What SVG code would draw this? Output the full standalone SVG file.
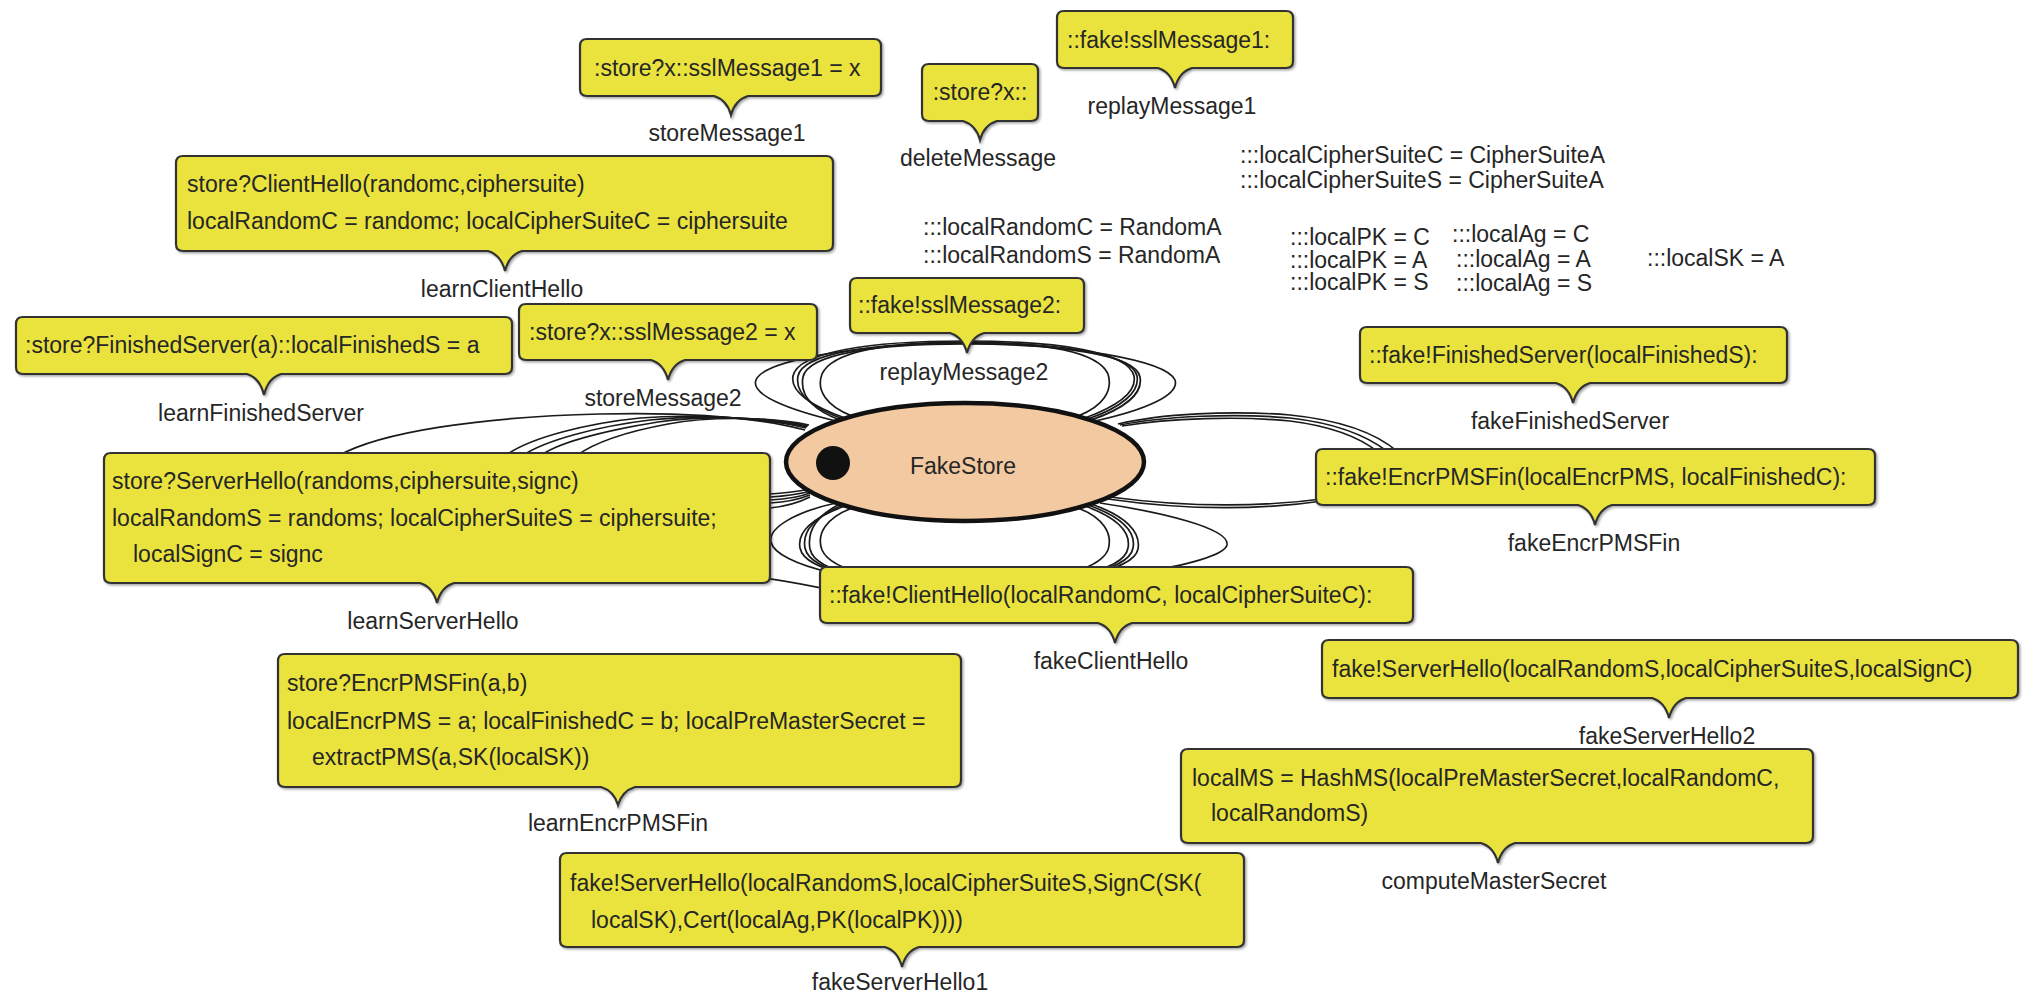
<svg xmlns="http://www.w3.org/2000/svg" width="2024" height="994" viewBox="0 0 2024 994">
<defs>
<filter id="sh" x="-5%" y="-10%" width="110%" height="130%">
<feDropShadow dx="1.5" dy="1.5" stdDeviation="1.2" flood-color="#000" flood-opacity="0.35"/>
</filter>
</defs>
<style>
.bub{fill:#EAE33D;stroke:#333;stroke-width:2.2;filter:url(#sh)}
.t{font-family:"Liberation Sans",Arial,Helvetica,sans-serif;font-size:23px;fill:#262626}
.lb{font-family:"Liberation Sans",Arial,Helvetica,sans-serif;font-size:23px;fill:#262626;text-anchor:middle}
.c{fill:none;stroke:#1a1a1a;stroke-width:1.7}
</style>
<rect width="2024" height="994" fill="#ffffff"/>
<g id="connectors">
<path class="c" d="M852,416 C826,406 816,390 822,374 C832,352 885,342 965,342 C1045,342 1098,352 1108,374 C1113,390 1104,406 1078,416"/>
<path class="c" d="M845,418 C812,406 790,392 793,376 C798,352 870,341 965,341 C1060,341 1128,352 1134,376 C1137,392 1118,406 1085,418"/>
<path class="c" d="M843,419 C810,407 795,392 798,376 C803,353 872,343 965,343 C1058,343 1132,353 1137,376 C1140,392 1122,407 1088,419"/>
<path class="c" d="M840,420 C808,408 800,393 803,377 C808,354 875,344 965,344 C1055,344 1136,354 1140,377 C1143,393 1126,408 1091,420"/>
<path class="c" d="M836,421 C790,410 750,395 756,380 C764,360 860,344 965,343 C1070,344 1166,360 1175,380 C1180,395 1145,410 1095,421"/>
<path class="c" d="M852,508 C826,518 816,534 822,550 C832,572 885,582 965,582 C1045,582 1098,572 1108,550 C1113,534 1104,518 1078,508"/>
<path class="c" d="M845,506 C812,518 797,532 800,548 C805,572 870,583 965,583 C1060,583 1124,572 1128,548 C1131,532 1118,518 1085,506"/>
<path class="c" d="M843,505 C814,517 802,532 805,548 C810,572 872,584 965,584 C1058,584 1129,572 1133,548 C1136,532 1122,517 1088,505"/>
<path class="c" d="M840,504 C816,516 807,532 810,549 C815,572 875,585 965,585 C1055,585 1134,572 1138,549 C1141,532 1126,516 1091,504"/>
<path class="c" d="M836,503 C795,512 768,528 771,542 C776,565 860,586 965,586 C1080,586 1222,565 1227,545 C1230,528 1160,512 1100,503"/>
<path class="c" d="M805,430 C760,418 690,412 600,414 C480,417 380,432 338,456 L340,470 C500,520 700,510 770,508 C790,506 800,502 810,497"/>
<path class="c" d="M806,428 C760,417 690,414 640,418 C590,423 530,437 505,456 L510,470 C600,500 720,505 770,503 C788,502 800,499 810,495"/>
<path class="c" d="M807,427 C760,416 695,415 650,420 C600,426 545,440 522,456 L525,470 C610,500 720,500 770,500 C788,499 800,497 810,493"/>
<path class="c" d="M808,426 C762,416 700,416 658,422 C615,429 560,441 540,456 L545,470 C620,495 720,497 770,497 C788,496 800,494 811,491"/>
<path class="c" d="M809,425 C765,416 705,417 668,424 C630,431 595,442 576,456 L580,470 C640,490 720,494 770,494 C788,493 800,491 812,489"/>
<path class="c" d="M700,570 C760,576 800,583 840,592"/>
<path class="c" d="M1118,424 C1160,414 1230,410 1290,415 C1340,420 1375,432 1398,452 L1390,470 C1365,490 1345,498 1330,500 C1250,512 1170,508 1108,499"/>
<path class="c" d="M1120,425 C1165,416 1235,413 1290,418 C1335,423 1365,434 1388,452 L1380,470 C1360,488 1345,496 1330,498 C1250,509 1170,505 1110,497"/>
<path class="c" d="M1122,426 C1170,418 1240,416 1290,421 C1330,426 1358,436 1378,452"/>
</g>
<g id="FakeStore">
<ellipse cx="965" cy="462" rx="179" ry="59" fill="#F2C9A0" stroke="#111" stroke-width="4.5"/>
<circle cx="833" cy="463" r="17" fill="#111"/>
<text class="lb" x="963" y="474">FakeStore</text>
</g>
<g id="storeMessage1">
<path class="bub" d="M587,39 H874 Q881,39 881,46 V89 Q881,96 874,96 H748 Q735,100 731,115 Q727,100 714,96 H587 Q580,96 580,89 V46 Q580,39 587,39 Z"/>
<text class="t" x="594" y="76">:store?x::sslMessage1 = x</text>
<text class="lb" x="727" y="141">storeMessage1</text>
</g>
<g id="deleteMessage">
<path class="bub" d="M929,64 H1031 Q1038,64 1038,71 V114 Q1038,121 1031,121 H997 Q984,125 980,140 Q976,125 963,121 H929 Q922,121 922,114 V71 Q922,64 929,64 Z"/>
<text class="lb" x="980" y="100">:store?x::</text>
<text class="lb" x="978" y="166">deleteMessage</text>
</g>
<g id="replayMessage1">
<path class="bub" d="M1064,11 H1286 Q1293,11 1293,18 V61 Q1293,68 1286,68 H1192 Q1179,72 1175,88 Q1171,72 1158,68 H1064 Q1057,68 1057,61 V18 Q1057,11 1064,11 Z"/>
<text class="t" x="1067" y="48">::fake!sslMessage1:</text>
<text class="lb" x="1172" y="114">replayMessage1</text>
</g>
<g id="learnClientHello">
<path class="bub" d="M183,156 H826 Q833,156 833,163 V244 Q833,251 826,251 H522 Q509,255 505,271 Q501,255 488,251 H183 Q176,251 176,244 V163 Q176,156 183,156 Z"/>
<text class="t" x="187" y="192">store?ClientHello(randomc,ciphersuite)</text>
<text class="t" x="187" y="229">localRandomC = randomc; localCipherSuiteC = ciphersuite</text>
<text class="lb" x="502" y="297">learnClientHello</text>
</g>
<g id="learnFinishedServer">
<path class="bub" d="M23,317 H505 Q512,317 512,324 V367 Q512,374 505,374 H281 Q268,378 264,395 Q260,378 247,374 H23 Q16,374 16,367 V324 Q16,317 23,317 Z"/>
<text class="t" x="25" y="353">:store?FinishedServer(a)::localFinishedS = a</text>
<text class="lb" x="261" y="421">learnFinishedServer</text>
</g>
<g id="storeMessage2">
<path class="bub" d="M526,304 H810 Q817,304 817,311 V353 Q817,360 810,360 H685 Q672,364 668,380 Q664,364 651,360 H526 Q519,360 519,353 V311 Q519,304 526,304 Z"/>
<text class="t" x="529" y="340">:store?x::sslMessage2 = x</text>
<text class="lb" x="663" y="406">storeMessage2</text>
</g>
<g id="replayMessage2">
<path class="bub" d="M857,278 H1077 Q1084,278 1084,285 V326 Q1084,333 1077,333 H984 Q971,337 967,353 Q963,337 950,333 H857 Q850,333 850,326 V285 Q850,278 857,278 Z"/>
<text class="t" x="858" y="313">::fake!sslMessage2:</text>
<text class="lb" x="964" y="380">replayMessage2</text>
</g>
<g id="learnServerHello">
<path class="bub" d="M111,453 H763 Q770,453 770,460 V576 Q770,583 763,583 H454 Q441,587 437,603 Q433,587 420,583 H111 Q104,583 104,576 V460 Q104,453 111,453 Z"/>
<text class="t" x="112" y="489">store?ServerHello(randoms,ciphersuite,signc)</text>
<text class="t" x="112" y="526">localRandomS = randoms; localCipherSuiteS = ciphersuite;</text>
<text class="t" x="133" y="562">localSignC = signc</text>
<text class="lb" x="433" y="629">learnServerHello</text>
</g>
<g id="fakeFinishedServer">
<path class="bub" d="M1367,327 H1780 Q1787,327 1787,334 V376 Q1787,383 1780,383 H1590 Q1577,387 1573,403 Q1569,387 1556,383 H1367 Q1360,383 1360,376 V334 Q1360,327 1367,327 Z"/>
<text class="t" x="1369" y="363">::fake!FinishedServer(localFinishedS):</text>
<text class="lb" x="1570" y="429">fakeFinishedServer</text>
</g>
<g id="fakeEncrPMSFin">
<path class="bub" d="M1323,449 H1868 Q1875,449 1875,456 V498 Q1875,505 1868,505 H1612 Q1599,509 1595,525 Q1591,509 1578,505 H1323 Q1316,505 1316,498 V456 Q1316,449 1323,449 Z"/>
<text class="t" x="1325" y="485">::fake!EncrPMSFin(localEncrPMS, localFinishedC):</text>
<text class="lb" x="1594" y="551">fakeEncrPMSFin</text>
</g>
<g id="fakeClientHello">
<path class="bub" d="M827,567 H1406 Q1413,567 1413,574 V616 Q1413,623 1406,623 H1132 Q1119,627 1115,643 Q1111,627 1098,623 H827 Q820,623 820,616 V574 Q820,567 827,567 Z"/>
<text class="t" x="829" y="603">::fake!ClientHello(localRandomC, localCipherSuiteC):</text>
<text class="lb" x="1111" y="669">fakeClientHello</text>
</g>
<g id="fakeServerHello2">
<path class="bub" d="M1329,640 H2011 Q2018,640 2018,647 V691 Q2018,698 2011,698 H1686 Q1673,702 1669,718 Q1665,702 1652,698 H1329 Q1322,698 1322,691 V647 Q1322,640 1329,640 Z"/>
<text class="t" x="1332" y="677">fake!ServerHello(localRandomS,localCipherSuiteS,localSignC)</text>
<text class="lb" x="1667" y="744">fakeServerHello2</text>
</g>
<g id="computeMasterSecret">
<path class="bub" d="M1188,749 H1806 Q1813,749 1813,756 V836 Q1813,843 1806,843 H1515 Q1502,847 1498,863 Q1494,847 1481,843 H1188 Q1181,843 1181,836 V756 Q1181,749 1188,749 Z"/>
<text class="t" x="1192" y="786">localMS = HashMS(localPreMasterSecret,localRandomC,</text>
<text class="t" x="1211" y="821">localRandomS)</text>
<text class="lb" x="1494" y="889">computeMasterSecret</text>
</g>
<g id="learnEncrPMSFin">
<path class="bub" d="M285,654 H954 Q961,654 961,661 V780 Q961,787 954,787 H635 Q622,791 618,805 Q614,791 601,787 H285 Q278,787 278,780 V661 Q278,654 285,654 Z"/>
<text class="t" x="287" y="691">store?EncrPMSFin(a,b)</text>
<text class="t" x="287" y="729">localEncrPMS = a; localFinishedC = b; localPreMasterSecret =</text>
<text class="t" x="312" y="765">extractPMS(a,SK(localSK))</text>
<text class="lb" x="618" y="831">learnEncrPMSFin</text>
</g>
<g id="fakeServerHello1">
<path class="bub" d="M567,853 H1237 Q1244,853 1244,860 V940 Q1244,947 1237,947 H919 Q906,951 902,967 Q898,951 885,947 H567 Q560,947 560,940 V860 Q560,853 567,853 Z"/>
<text class="t" x="570" y="891">fake!ServerHello(localRandomS,localCipherSuiteS,SignC(SK(</text>
<text class="t" x="591" y="928">localSK),Cert(localAg,PK(localPK))))</text>
<text class="lb" x="900" y="990">fakeServerHello1</text>
</g>
<g id="initial-values">
<text class="t" x="1240" y="163">:::localCipherSuiteC = CipherSuiteA</text>
<text class="t" x="1240" y="188">:::localCipherSuiteS = CipherSuiteA</text>
<text class="t" x="923" y="235">:::localRandomC = RandomA</text>
<text class="t" x="923" y="263">:::localRandomS = RandomA</text>
<text class="t" x="1290" y="245">:::localPK = C</text>
<text class="t" x="1290" y="268">:::localPK = A</text>
<text class="t" x="1290" y="290">:::localPK = S</text>
<text class="t" x="1452" y="242">:::localAg = C</text>
<text class="t" x="1456" y="267">:::localAg = A</text>
<text class="t" x="1456" y="291">:::localAg = S</text>
<text class="t" x="1647" y="266">:::localSK = A</text>
</g>
</svg>
